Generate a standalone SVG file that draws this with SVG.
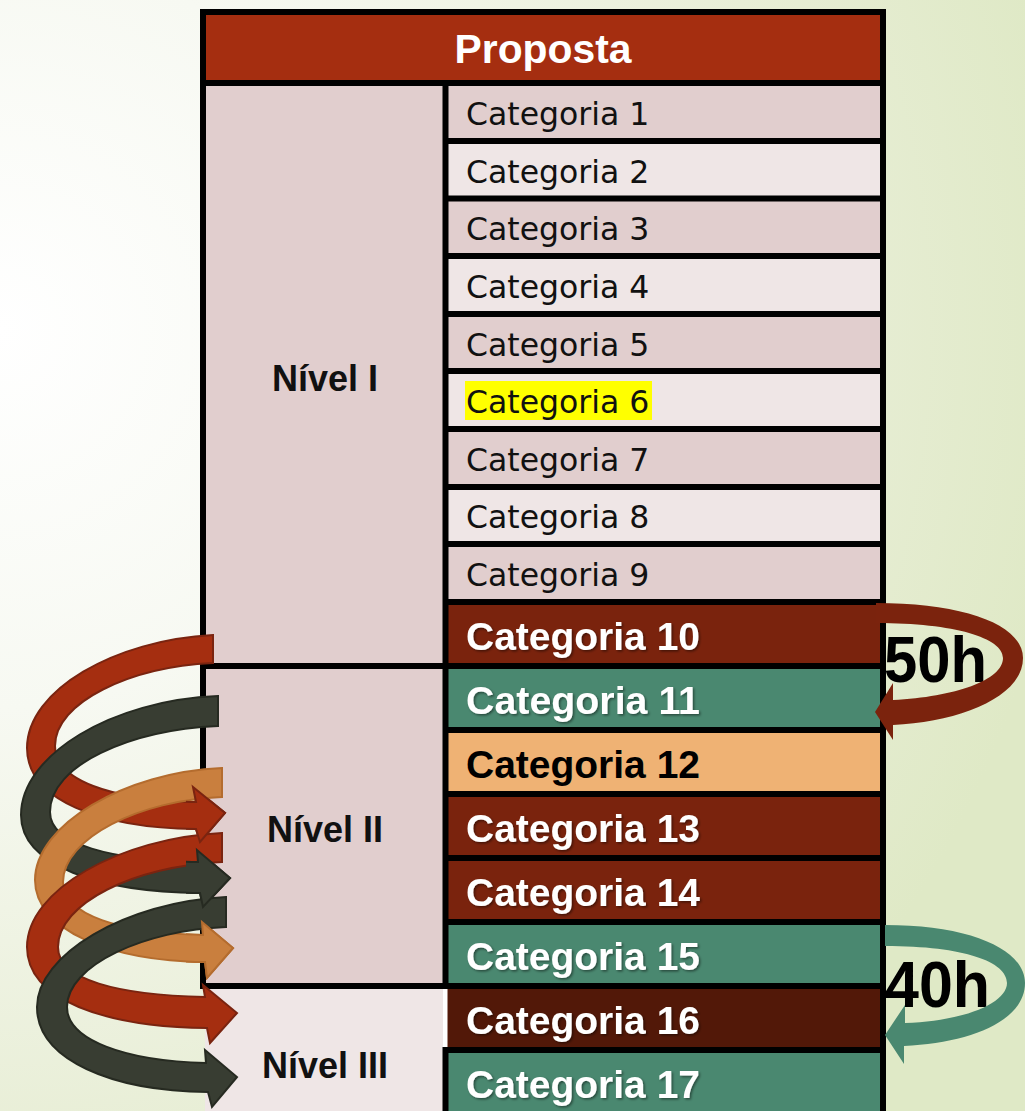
<svg xmlns="http://www.w3.org/2000/svg" xmlns:xlink="http://www.w3.org/1999/xlink" width="1025" height="1111" viewBox="0 0 1025 1111">
  <defs>
    <radialGradient id="bg" gradientUnits="userSpaceOnUse" cx="0" cy="330" r="1080">
      <stop offset="0" stop-color="#FFFFFF"/>
      <stop offset="0.35" stop-color="#F7F9F2"/>
      <stop offset="0.75" stop-color="#E8EED6"/>
      <stop offset="1" stop-color="#DFE9C6"/>
    </radialGradient>
    <filter id="shadow" x="-5%" y="-20%" width="110%" height="150%">
      <feDropShadow dx="1.5" dy="1.5" stdDeviation="0.8" flood-color="#000" flood-opacity="0.45"/>
    </filter>
    <style>
      .line { stroke: #000; stroke-width: 6; fill: none; }
      .odd { fill: #E1CECE; }
      .even { fill: #EFE6E6; }
      .reg { font-family: "DejaVu Sans", "Liberation Sans", sans-serif; font-size: 31.5px; fill: #111; }
      .bold { font-family: "Liberation Sans", Arial, sans-serif; font-weight: bold; font-size: 39px; fill: #FFF; filter: url(#shadow); }
      .lvl { font-family: "Liberation Sans", Arial, sans-serif; font-weight: bold; font-size: 36px; fill: #111; text-anchor: middle; }
      .hours { font-family: "Liberation Sans", Arial, sans-serif; font-weight: bold; font-size: 64px; fill: #000; }
      .red { fill: #A52E10; stroke: #7A2410; stroke-width: 2; }
      .dark { fill: #383D32; stroke: #262A21; stroke-width: 2; }
      .orange { fill: #C97F3E; stroke: #B46C2E; stroke-width: 2; }
    </style>
    <!-- left spiral arrows -->
    <path id="a1" d="M213,635 C115,640 27,690 27,748 C27,800 100,828 196,829 L200,842 L225,813 L193,787 L196,802 C110,800 55,780 55,746 C55,702 130,667 213,663 Z"/>
    <path id="a2" d="M218,696 C112,700 21,755 21,815 C21,866 100,892 200,893 L203,907 L230,878 L197,850 L198,862 C112,860 50,845 50,812 C50,765 130,730 218,726 Z"/>
    <path id="a3" d="M222,768 C125,772 35,825 35,880 C35,930 110,961 205,962 L207,978 L233,948 L202,922 L203,935 C120,933 63,915 63,882 C63,838 140,800 222,797 Z"/>
    <path id="a4" d="M222,833 C120,838 27,890 27,947 C27,1000 105,1027 207,1028 L210,1043 L237,1013 L203,985 L205,997 C118,995 58,980 58,947 C58,903 135,866 222,862 Z"/>
    <path id="a5" d="M226,897 C125,902 37,955 37,1007 C37,1060 112,1091 208,1092 L212,1107 L237,1077 L205,1050 L206,1063 C125,1061 67,1040 67,1007 C67,965 145,930 226,927 Z"/>
    <clipPath id="h1"><rect x="186" y="782" width="64" height="64"/></clipPath>
    <clipPath id="h2"><rect x="186" y="845" width="64" height="66"/></clipPath>
    <clipPath id="h3"><rect x="186" y="917" width="64" height="65"/></clipPath>
    <clipPath id="h4"><rect x="186" y="980" width="64" height="67"/></clipPath>
  </defs>

  <!-- background -->
  <rect x="0" y="0" width="1025" height="1111" fill="url(#bg)"/>

  <!-- header -->
  <g id="header">
    <rect x="203" y="12" width="680" height="71" fill="#A52E10"/>
    <text x="543" y="63" text-anchor="middle" font-family="Liberation Sans, Arial, sans-serif" font-weight="bold" font-size="41" fill="#FFF" textLength="177" lengthAdjust="spacingAndGlyphs">Proposta</text>
  </g>

  <!-- level cells -->
  <g id="nivel-1">
    <rect x="203" y="83" width="243" height="583" class="odd"/>
    <text x="325" y="391" class="lvl">Nível I</text>
  </g>
  <g id="nivel-2">
    <rect x="203" y="666" width="243" height="320" class="odd"/>
    <text x="325" y="842" class="lvl">Nível II</text>
  </g>
  <g id="nivel-3">
    <rect x="205" y="986" width="241" height="125" class="even"/>
    <text x="325" y="1078" class="lvl">Nível III</text>
  </g>

  <!-- category rows -->
  <g id="cat-1"><rect x="446" y="83" width="437" height="58" class="odd"/><text x="466" y="125" class="reg">Categoria 1</text></g>
  <g id="cat-2"><rect x="446" y="141" width="437" height="58" class="even"/><text x="466" y="182.5" class="reg">Categoria 2</text></g>
  <g id="cat-3"><rect x="446" y="198" width="437" height="58" class="odd"/><text x="466" y="240" class="reg">Categoria 3</text></g>
  <g id="cat-4"><rect x="446" y="256" width="437" height="58" class="even"/><text x="466" y="298" class="reg">Categoria 4</text></g>
  <g id="cat-5"><rect x="446" y="314" width="437" height="58" class="odd"/><text x="466" y="355.5" class="reg">Categoria 5</text></g>
  <g id="cat-6"><rect x="446" y="371" width="437" height="58" class="even"/><rect x="465" y="381" width="187" height="39" fill="#FFFF00"/><text x="466" y="413" class="reg">Categoria 6</text></g>
  <g id="cat-7"><rect x="446" y="429" width="437" height="58" class="odd"/><text x="466" y="470.5" class="reg">Categoria 7</text></g>
  <g id="cat-8"><rect x="446" y="487" width="437" height="58" class="even"/><text x="466" y="528" class="reg">Categoria 8</text></g>
  <g id="cat-9"><rect x="446" y="544" width="437" height="58" class="odd"/><text x="466" y="586" class="reg">Categoria 9</text></g>
  <g id="cat-10"><rect x="446" y="602" width="437" height="64" fill="#7A230D"/><text x="466" y="650" class="bold" textLength="234" lengthAdjust="spacingAndGlyphs">Categoria 10</text></g>
  <g id="cat-11"><rect x="446" y="666" width="437" height="64" fill="#4A8870"/><text x="466" y="714" class="bold" textLength="234" lengthAdjust="spacingAndGlyphs">Categoria 11</text></g>
  <g id="cat-12"><rect x="446" y="730" width="437" height="64" fill="#EFB274"/><text x="466" y="778" class="bold" fill="#000" style="fill:#000;filter:none" textLength="234" lengthAdjust="spacingAndGlyphs">Categoria 12</text></g>
  <g id="cat-13"><rect x="446" y="794" width="437" height="64" fill="#7A230D"/><text x="466" y="842" class="bold" textLength="234" lengthAdjust="spacingAndGlyphs">Categoria 13</text></g>
  <g id="cat-14"><rect x="446" y="858" width="437" height="64" fill="#7A230D"/><text x="466" y="906" class="bold" textLength="234" lengthAdjust="spacingAndGlyphs">Categoria 14</text></g>
  <g id="cat-15"><rect x="446" y="922" width="437" height="64" fill="#4A8870"/><text x="466" y="970" class="bold" textLength="234" lengthAdjust="spacingAndGlyphs">Categoria 15</text></g>
  <g id="cat-16"><rect x="446" y="986" width="437" height="64" fill="#521808"/><text x="466" y="1034" class="bold" textLength="234" lengthAdjust="spacingAndGlyphs">Categoria 16</text></g>
  <g id="cat-17"><rect x="446" y="1050" width="437" height="61" fill="#4A8870"/><text x="466" y="1098" class="bold" textLength="234" lengthAdjust="spacingAndGlyphs">Categoria 17</text></g>

  <!-- table rules -->
  <g id="grid">
    <path class="line" d="M200,12 H886 M203,9 V989 M883,9 V1111 M200,83 H886 M445.5,83 V989 M445.5,1047 V1111"/>
    <path class="line" d="M445,141 H886 M445,198.5 H886 M445,256 H886 M445,314 H886 M445,371 H886 M445,429 H886 M445,487 H886 M445,544 H886 M445,602 H886"/>
    <path class="line" d="M200,666 H886 M445,730 H886 M445,794 H886 M445,858 H886 M445,922 H886 M205,986 H886 M445,1050 H886"/>
    <rect x="443" y="989" width="4.5" height="58" fill="#FFF"/>
  </g>

  <!-- hour labels -->
  <g id="label-50h"><text x="884" y="682" class="hours" textLength="103" lengthAdjust="spacingAndGlyphs">50h</text></g>
  <g id="label-40h"><text x="885" y="1007" class="hours" textLength="105" lengthAdjust="spacingAndGlyphs">40h</text></g>

  <!-- connectors -->
  <g id="connectors">
    <!-- loop arrows on the right -->
    <path fill="#7B230D" d="M876,603 C965,603 1023,625 1023,658 C1023,697 960,722 893,725 L893,740 L875,712 L893,683 L893,700 C955,697 1003,680 1003,658 C1003,638 955,623 876,623 Z"/>
    <path fill="#4A8870" d="M885,925 C972,925 1025,950 1025,983 C1025,1021 970,1043 904,1046 L904,1064 L885,1035 L905,1005 L905,1023 C965,1021 1007,1003 1007,983 C1007,962 965,946 885,946 Z"/>
    <!-- spiral arrows on the left -->
    <use xlink:href="#a1" class="red"/>
    <use xlink:href="#a2" class="dark"/>
    <use xlink:href="#a3" class="orange"/>
    <use xlink:href="#a4" class="red"/>
    <use xlink:href="#a5" class="dark"/>
    <!-- arrow heads stay in front of the following arrow tails -->
    <use xlink:href="#a1" class="red" clip-path="url(#h1)"/>
    <use xlink:href="#a2" class="dark" clip-path="url(#h2)"/>
    <use xlink:href="#a3" class="orange" clip-path="url(#h3)"/>
  </g>
</svg>
